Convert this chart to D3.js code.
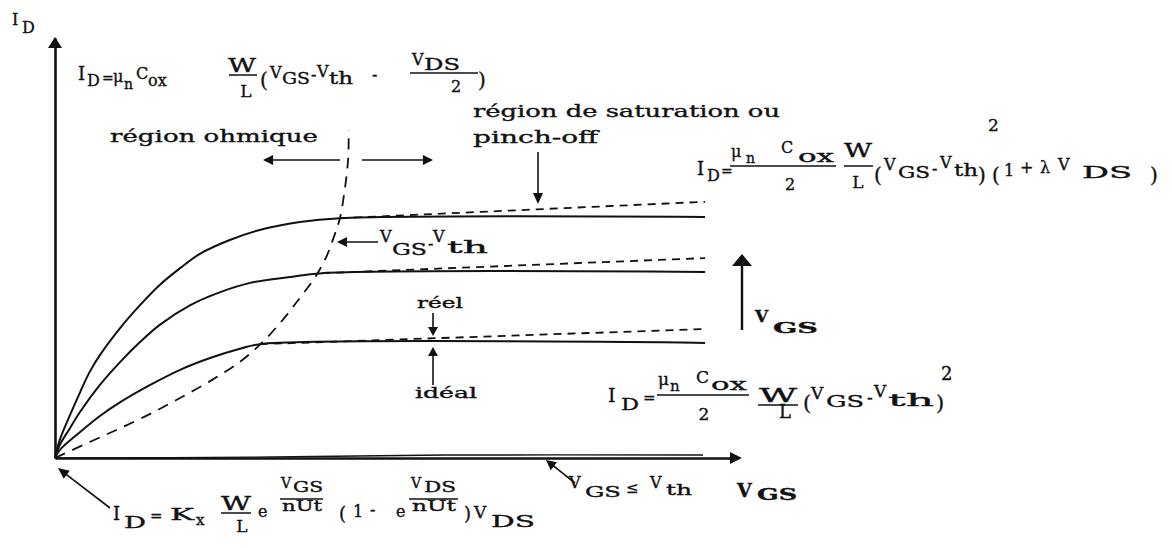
<!DOCTYPE html>
<html>
<head>
<meta charset="utf-8">
<script src="https://cdn.jsdelivr.net/npm/d3@7"></script>
<style>
  html, body { margin: 0; padding: 0; background: #fff; }
  svg { display: block; }
  text { font-family: "DejaVu Serif", "Liberation Serif", serif; fill: #111; stroke: #111; stroke-width: 0.35px; }
</style>
</head>
<body>
<svg id="chart" width="1172" height="548"></svg>
<script>
// Axis domains (arbitrary units): V_DS horizontally, I_D vertically
const vdsDomain = [0, 100];
const idDomain = [0, 100];

// Ideal output characteristics I_D(V_DS), one per V_GS step
const idealHighVgs = [[0,0],[0.7,4.3],[2.2,10.2],[3.7,15.7],[5.1,20.5],[6.6,24.5],[9.6,31.0],[12.5,36.4],
  [15.4,41.2],[18.4,45.2],[21.3,48.6],[25.7,51.9],[30.1,54.3],[36.0,56.2],[41.9,57.1],[95.6,57.4]];
const idealMidVgs = [[0,0],[0.7,3.1],[2.2,7.1],[3.7,11.0],[6.6,17.4],[9.6,22.9],[12.5,27.6],[15.4,31.7],
  [19.9,36.4],[24.3,39.5],[28.7,41.7],[34.6,43.1],[39.3,44.0],[95.6,44.3]];
const idealLowVgs = [[0,0],[0.7,1.9],[3.7,6.2],[6.6,10.0],[9.6,13.3],[14.0,17.4],[18.4,21.0],[22.8,23.8],
  [27.2,26.0],[30.1,27.1],[95.6,27.4]];

// Real characteristics past pinch-off (channel-length modulation)
const realHighVgs = [[41.9,57.1],[95.6,61.0]];
const realMidVgs = [[39.3,44.0],[95.6,47.6]];
const realLowVgs = [[30.1,27.1],[95.6,30.7]];

// Pinch-off locus V_DS = V_GS - V_th
const pinchLocus = [[0,0],[5.1,3.8],[9.6,7.1],[14.0,10.5],[18.4,14.3],[22.8,18.3],[27.2,22.9],[30.4,27.4],
  [33.5,32.9],[36.0,38.1],[38.2,42.9],[39.9,47.9],[41.0,52.6],[41.9,57.1],[42.6,63.8],[43.1,71.0],[43.2,78.1]];

// Sub-threshold current (V_GS <= V_th), nearly zero
const subthreshold = [[0,0],[28.7,0.2],[57.5,0.7],[95.3,0.7]];

const svg = d3.select("#chart");
const x = d3.scaleLinear().domain(vdsDomain).range([55, 735]);
const y = d3.scaleLinear().domain(idDomain).range([458, 38]);

const ink = "#111";

// ---- axes ----
const xAxis = svg.append("g").attr("transform", `translate(0,${y(0)})`)
  .call(d3.axisBottom(x).tickValues([]).tickSizeOuter(0));
xAxis.select(".domain").attr("stroke", ink).attr("stroke-width", 2.6);
const yAxis = svg.append("g").attr("transform", `translate(${x(0)},0)`)
  .call(d3.axisLeft(y).tickValues([]).tickSizeOuter(0));
yAxis.select(".domain").attr("stroke", ink).attr("stroke-width", 2.6);

function head(tx, ty, ang, len, half) {
  // filled triangular arrow head, tip at (tx,ty), pointing along ang
  const c = Math.cos(ang), s = Math.sin(ang);
  const bx = tx - c * len, by = ty - s * len;
  const p = [[tx, ty], [bx - s * half, by + c * half], [bx + s * half, by - c * half]];
  svg.append("path").attr("d", "M" + p.join("L") + "Z").attr("fill", ink);
}
function arrow(x1, y1, x2, y2, len = 10, half = 5, w = 1.6) {
  const ang = Math.atan2(y2 - y1, x2 - x1);
  svg.append("line").attr("x1", x1).attr("y1", y1)
    .attr("x2", x2 - Math.cos(ang) * len * 0.6).attr("y2", y2 - Math.sin(ang) * len * 0.6)
    .attr("stroke", ink).attr("stroke-width", w);
  head(x2, y2, ang, len, half);
}
head(x(0), y(100) - 1, -Math.PI / 2, 11, 7);
head(x(100) + 7, y(0), 0, 12, 6);

// ---- characteristics ----
const line = d3.line().x(d => x(d[0])).y(d => y(d[1])).curve(d3.curveCatmullRom.alpha(0.5));
const curves = svg.append("g").attr("fill", "none").attr("stroke", ink);

[idealHighVgs, idealMidVgs, idealLowVgs].forEach(c =>
  curves.append("path").attr("d", line(c)).attr("stroke-width", 2));
[realHighVgs, realMidVgs, realLowVgs].forEach(c =>
  curves.append("path").attr("d", line(c)).attr("stroke-width", 1.8).attr("stroke-dasharray", "8,6"));
curves.append("path").attr("d", line(pinchLocus)).attr("stroke-width", 1.8).attr("stroke-dasharray", "11,8");
curves.append("path").attr("d", line(subthreshold)).attr("stroke-width", 1.4);

// ---- text helpers ----
const labels = svg.append("g");
function t(px, py, str, size, w, anchor, weight) {
  const el = labels.append("text").attr("x", px).attr("y", py).attr("font-size", size).text(str);
  if (w) el.attr("textLength", w).attr("lengthAdjust", "spacingAndGlyphs");
  if (anchor) el.attr("text-anchor", anchor);
  if (weight) el.attr("font-weight", weight);
  return el;
}
function bar(x1, x2, yy) {
  labels.append("line").attr("x1", x1).attr("x2", x2).attr("y1", yy).attr("y2", yy)
    .attr("stroke", ink).attr("stroke-width", 1.5);
}

// axis names
t(12, 25, "I", 16); t(22, 33, "D", 16);
t(737, 497, "V", 19, null, null, "bold"); t(757, 500, "GS", 16, 40, null, "bold");

// region captions
t(110, 142, "région ohmique", 17, 208);
arrow(340, 160, 263, 160, 10, 5);
arrow(362, 160, 433, 160, 10, 5);
t(473, 117, "région de saturation ou", 17, 307);
t(473, 143, "pinch-off", 17, 125);
arrow(538, 152, 538, 204, 11, 5);

// V_GS - V_th marker
arrow(378, 242, 337, 242, 10, 5);
t(380, 242, "V", 16); t(392, 255, "GS", 16, 35); t(428, 249, "-", 16); t(433, 242, "V", 16); t(447, 253, "th", 16, 41);

// real / ideal
t(417, 308, "réel", 14, 46);
arrow(433, 313, 433, 336, 9, 5);
t(415, 398, "idéal", 14, 62);
arrow(433, 385, 433, 347, 9, 5);

// V_GS increasing
arrow(742, 330, 742, 254, 12, 10, 2.4);
t(755, 322, "V", 17, null, null, "bold"); t(773, 333, "GS", 15, 45, null, "bold");

// V_GS <= V_th
arrow(575, 483, 546, 460, 10, 5);
t(569, 488, "V", 16); t(585, 497, "GS", 15, 36); t(626, 493, "≤", 15); t(650, 488, "V", 16); t(666, 495, "th", 15, 26);

// origin pointer
arrow(110, 508, 58, 468, 11, 5);

// ---- formulas ----
// linear region
t(78, 80, "I", 18); t(87, 86, "D", 16); t(102, 83, "=", 14);
t(113, 82, "μ", 16); t(124, 89, "n", 14); t(136, 79, "C", 16); t(148, 86, "ox", 16);
t(242, 72, "W", 18, 28, "middle"); bar(229, 257, 75); t(246, 97, "L", 17, null, "middle");
t(260, 87, "(", 20); t(270, 78, "V", 16); t(282, 84, "GS", 16, 28); t(311, 80, "-", 16);
t(317, 77, "V", 16); t(329, 84, "th", 16, 24); t(372, 80, "-", 16);
t(412, 65, "V", 16); t(424, 70, "DS", 16, 36); bar(410, 478, 73); t(456, 92, "2", 16, null, "middle");
t(478, 87, ")", 20);

// saturation with channel-length modulation
t(697, 175, "I", 18); t(707, 181, "D", 16); t(721, 176, "=", 14);
t(731, 157, "μ", 16); t(746, 163, "n", 14); t(781, 153, "C", 16); t(798, 162, "ox", 16, 36);
bar(730, 836, 166); t(790, 190, "2", 16, null, "middle");
t(858, 157, "W", 18, 28, "middle"); bar(844, 873, 166); t(858, 188, "L", 17, null, "middle");
t(874, 182, "(", 20); t(884, 170, "V", 16); t(898, 178, "GS", 16, 32); t(932, 174, "-", 16);
t(940, 168, "V", 16); t(954, 176, "th", 16, 24); t(978, 182, ")", 20); t(988, 131, "2", 17);
t(992, 182, "(", 20); t(1004, 176, "1", 16); t(1020, 173, "+", 16); t(1040, 173, "λ", 16);
t(1058, 170, "V", 16); t(1082, 178, "DS", 16, 50); t(1150, 182, ")", 20);

// ideal saturation
t(608, 402, "I", 19); t(621, 410, "D", 17, 18); t(643, 403, "=", 15);
t(658, 385, "μ", 17); t(670, 391, "n", 15); t(696, 383, "C", 17); t(711, 390, "ox", 17, 36);
bar(657, 749, 395); t(704, 420, "2", 17, null, "middle");
t(778, 402, "W", 19, 38, "middle"); bar(758, 798, 405); t(785, 418, "L", 18, null, "middle");
t(803, 410, "(", 21); t(811, 399, "V", 17); t(826, 407, "GS", 17, 38); t(867, 403, "-", 17);
t(874, 397, "V", 17); t(888, 406, "th", 17, 46); t(936, 410, ")", 21); t(941, 380, "2", 18);

// weak inversion
t(113, 520, "I", 18); t(124, 528, "D", 17, 22); t(150, 521, "=", 15);
t(170, 520, "K", 17, 24); t(196, 525, "x", 15);
t(236, 510, "W", 18, 30, "middle"); bar(221, 251, 513); t(242, 532, "L", 17, null, "middle");
t(258, 517, "e", 16);
t(281, 488, "V", 14); t(293, 492, "GS", 14, 30); bar(280, 323, 499); t(282, 511, "nUt", 14, 40);
t(339, 520, "(", 18); t(353, 517, "1", 16); t(370, 515, "-", 16);
t(396, 517, "e", 16);
t(411, 488, "V", 14); t(424, 492, "DS", 14, 32); bar(409, 458, 499); t(412, 511, "nUt", 14, 44);
t(464, 520, ")", 18); t(474, 518, "V", 17); t(491, 527, "DS", 17, 44);
</script>
</body>
</html>
